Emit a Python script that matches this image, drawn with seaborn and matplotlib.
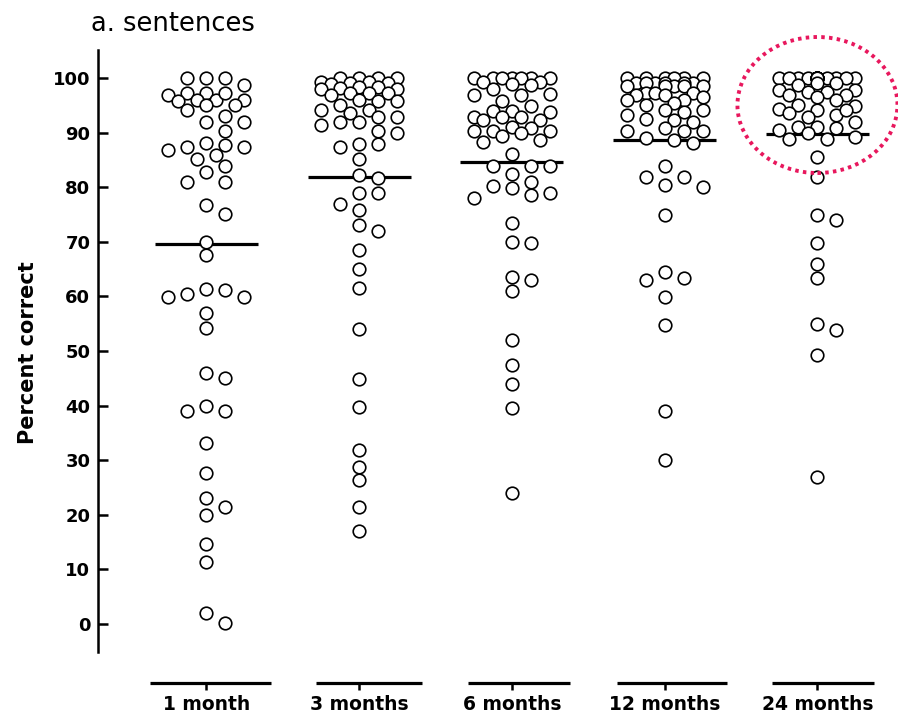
import numpy as np
import pandas as pd
import matplotlib
matplotlib.use("Agg")
import matplotlib.pyplot as plt
from matplotlib.patches import Ellipse
import seaborn as sns

# ---- data -------------------------------------------------------------
groups = ["1 month", "3 months", "6 months", "12 months", "24 months"]

one_month = [100, 100, 100, 98.7, 97.2, 96, 95, 96, 97.2, 97.2, 96, 95, 96.9,
             95.7, 94.1, 93, 92, 92, 90.2, 87.3, 86.9, 88, 87.7, 85.9, 85.1,
             87.3, 83.9, 82.8, 81, 81, 76.7, 75.1, 70, 67.6, 61.3, 60.4, 59.8,
             59.9, 61.2, 56.9, 54.2, 46, 45, 39, 39, 39.9, 33.2, 27.6, 23, 21.5,
             20, 14.7, 11.4, 0.1, 2]

three_months = [100, 100, 100, 100, 99, 99.3, 99.3, 99, 98.9, 98.4, 98.4, 98.1,
                98, 98, 97.2, 97.2, 97.2, 96.9, 96, 95.7, 95.7, 95, 94.1, 94.1,
                92.9, 93.5, 92, 91.4, 92, 92.9, 90.2, 90, 87.9, 87.3, 87.9, 85.1,
                82.2, 81.6, 78.9, 78.9, 76.9, 75.9, 73.1, 71.9, 68.5, 65.1, 61.5,
                54, 44.8, 39.8, 31.9, 28.8, 26.4, 21.5, 17]

six_months = [100, 100, 100, 100, 100, 100, 100, 99.2, 99.2, 98.7, 98.9, 97.9,
              96.9, 96.9, 97.1, 95.8, 94.9, 94, 93.7, 94, 92.9, 92.8, 92.3, 92.9,
              92.3, 90.8, 90.2, 91.1, 90.2, 89.4, 88.6, 89.9, 90.2, 88.2, 86,
              83.9, 83.9, 83.9, 82.4, 81, 80.2, 79.8, 79, 78, 78.6, 73.5, 69.8,
              70, 63, 63.5, 61, 52, 47.4, 44, 39.5, 23.9]

twelve_months = [100, 100, 100, 100, 100, 100, 99, 99, 99, 99, 99, 99, 98.5,
                 98.5, 98.5, 98.5, 98.5, 97.2, 96.9, 97.2, 97.2, 96.5, 96.9, 95,
                 96, 96, 95.4, 93.2, 94.1, 92.3, 94.1, 92.4, 93.8, 92, 90.8, 90.2,
                 90.2, 90.2, 89, 88, 88.6, 83.9, 81.8, 80.1, 80.4, 81.9, 74.9,
                 64.5, 63, 63.3, 59.9, 54.8, 39, 30]

twenty_four_months = [100, 100, 100, 100, 100, 100, 100, 100, 100, 100, 100,
                      100, 100, 100, 100, 100, 97.8, 97.5, 99, 99, 98.7, 97.8,
                      96.9, 96.9, 97.5, 96.6, 96, 94.9, 94.4, 95, 94.1, 93.5,
                      92.9, 93.2, 94.1, 92, 91.1, 91.1, 90.5, 89.9, 90.8, 88.9,
                      88.9, 89.2, 85.5, 81.9, 74.9, 74, 69.7, 65.9, 63.3, 54.9,
                      53.8, 49.3, 27]

series = [one_month, three_months, six_months, twelve_months, twenty_four_months]
y_ticks = [0, 10, 20, 30, 40, 50, 60, 70, 80, 90, 100]
title_text = "a. sentences"
y_label = "Percent correct"

# ---- style ------------------------------------------------------------
sns.set_theme(style="white")
plt.rcParams["font.family"] = ["DejaVu Sans"]
for key in ["text.color", "axes.labelcolor", "xtick.color", "ytick.color",
            "axes.edgecolor"]:
    plt.rcParams[key] = "black"

W, H = 898, 717
fig = plt.figure(figsize=(W / 100, H / 100), dpi=100)
ax = fig.add_axes([98 / W, 1 - 683 / H, (890 - 98) / W, (683 - 48) / H])
XLIM = (-0.71, 4.475)
YLIM = (-10.81, 105.49)
ax.set_xlim(*XLIM)
ax.set_ylim(*YLIM)


def column_layout(ax, xc, values, slot=0.1244, min_px=12.5):
    """Place points of one group on a grid of lateral slots: whole slots
    first, half slots next, overlapping only where the grid is full."""
    ks = np.array([0, 1, -1, 2, -2, 0.5, -0.5, 1.5, -1.5]) * slot
    vals = np.asarray(values, dtype=float)
    order = np.argsort(-vals, kind="stable")
    offsets = np.zeros(len(vals))
    placed = []
    for idx in order:
        cand_px = ax.transData.transform(
            np.column_stack([xc + ks, np.full(len(ks), vals[idx])]))
        if placed:
            P = np.array(placed)
            d = np.sqrt(((cand_px[:, None, :] - P[None, :, :]) ** 2).sum(-1))
            mind = d.min(axis=1)
        else:
            mind = np.full(len(ks), np.inf)
        ok = np.where(mind >= min_px)[0]
        j = ok[0] if len(ok) else int(np.argmax(mind))
        offsets[idx] = ks[j]
        placed.append(cand_px[j])
    return offsets


rows = []
for i, (g, vals) in enumerate(zip(groups, series)):
    offs = column_layout(ax, i, vals)
    for v, o in zip(vals, offs):
        rows.append({"group": g, "value": v, "x": i + o})
df = pd.DataFrame(rows)

# group means as horizontal bars
means = df.groupby("group", sort=False)["value"].mean()
for i, g in enumerate(groups):
    ax.hlines(means[g], i - 0.337, i + 0.337, color="black", lw=2.3, zorder=2)

sns.scatterplot(data=df, x="x", y="value", ax=ax, s=82, color="white",
                edgecolor="black", linewidth=1.2, zorder=3, legend=False)

ax.set_xlim(*XLIM)
ax.set_ylim(*YLIM)
ax.set_xlabel("")
ax.set_ylabel("")

# axes decoration
for side in ["top", "right", "bottom"]:
    ax.spines[side].set_visible(False)
ax.spines["left"].set_linewidth(1.8)
ax.spines["left"].set_color("black")
ax.spines["left"].set_bounds(-5.13, 105.1)

ax.set_yticks(y_ticks)
ax.set_yticklabels([str(t) for t in y_ticks], fontweight="bold")
ax.tick_params(axis="y", direction="in", length=7.5, width=1.8, colors="black",
               labelsize=13, pad=5.5, left=True)

ax.set_xticks(range(len(groups)))
ax.set_xticklabels(groups, fontweight="bold")
ax.tick_params(axis="x", direction="out", length=5, width=1.8, colors="black",
               labelsize=13.5, pad=3.5, bottom=True)

# per-group baseline segments
seg_l = [-0.37, -0.28, -0.29, -0.31, -0.30]
seg_r = [0.42, 0.41, 0.38, 0.41, 0.37]
for i in range(len(groups)):
    ax.hlines(0, i + seg_l[i], i + seg_r[i], transform=ax.get_xaxis_transform(),
              color="black", lw=2.3, clip_on=False)

# highlight ring around the 24-month ceiling cluster
ring = Ellipse((4, 95.05), width=160 / 152.75, height=136 / 5.46, fill=False,
               edgecolor="#E8175D", lw=2.8, linestyle=(0, (0.9, 1.1)),
               clip_on=False, zorder=5)
ax.add_patch(ring)

fig.text(91 / W, 1 - 31 / H, title_text, fontsize=18.5, ha="left",
         va="baseline", color="black")
fig.text(28 / W, 1 - 353 / H, y_label, rotation=90, fontsize=15,
         fontweight="bold", ha="center", va="center", color="black")

fig.savefig("out.png", dpi=100)
